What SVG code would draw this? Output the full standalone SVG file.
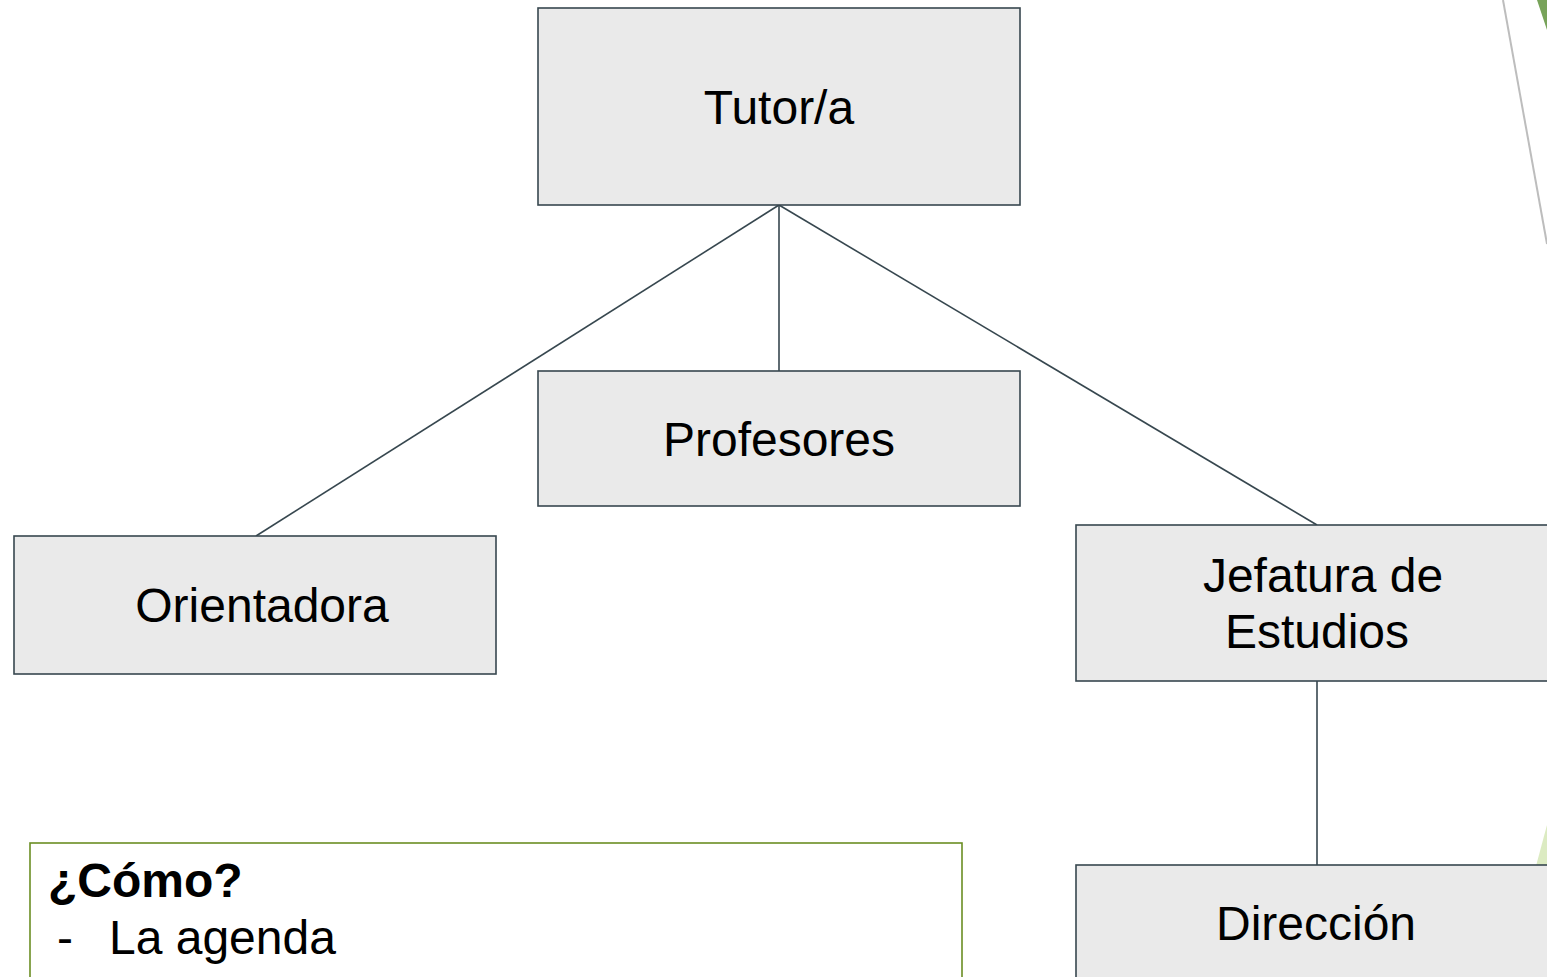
<svg xmlns="http://www.w3.org/2000/svg" width="1547" height="977" viewBox="0 0 1547 977">
<style>
.box{fill:#eaeaea;stroke:#37474f;stroke-width:1.6}
.lbl{font-family:"Liberation Sans",Arial,sans-serif;font-size:48px;fill:#000;text-anchor:middle}
.con{stroke:#37474f;stroke-width:1.6;fill:none}
.note{font-family:"Liberation Sans",Arial,sans-serif;font-size:48px;fill:#000}
</style>
<rect width="1547" height="977" fill="#ffffff"/>
<g id="decor">
<polygon points="1537,0 1547,0 1547,30" fill="#78a35a"/>
<line x1="1503" y1="0" x2="1547" y2="244" stroke="#bdbdbd" stroke-width="2"/>
<polygon points="1536,866 1547,825 1547,866" fill="#dcebc2"/>
</g>
<g id="connectors">
<line class="con" x1="779" y1="205" x2="256" y2="536"/>
<line class="con" x1="779" y1="205" x2="779" y2="371"/>
<line class="con" x1="779" y1="205" x2="1317" y2="525"/>
<line class="con" x1="1317" y1="681" x2="1317" y2="865"/>
</g>
<g id="tutor">
<rect class="box" x="538" y="8" width="482" height="197"/>
<text class="lbl" x="779" y="124">Tutor/a</text>
</g>
<g id="profesores">
<rect class="box" x="538" y="371" width="482" height="135"/>
<text class="lbl" x="779" y="456">Profesores</text>
</g>
<g id="orientadora">
<rect class="box" x="14" y="536" width="482" height="138"/>
<text class="lbl" x="262" y="622">Orientadora</text>
</g>
<g id="jefatura">
<rect class="box" x="1076" y="525" width="490" height="156"/>
<text class="lbl" x="1323" y="592">Jefatura de</text>
<text class="lbl" x="1317" y="648">Estudios</text>
</g>
<g id="direccion">
<rect class="box" x="1076" y="865" width="490" height="130"/>
<text class="lbl" x="1316" y="940">Dirección</text>
</g>
<g id="como">
<rect x="30" y="843" width="932" height="160" fill="#ffffff" stroke="#6b8e23" stroke-width="1.6"/>
<text class="note" x="48" y="897" font-weight="bold">¿Cómo?</text>
<text class="note" x="57" y="954">-</text>
<text class="note" x="109" y="954">La agenda</text>
</g>
</svg>
